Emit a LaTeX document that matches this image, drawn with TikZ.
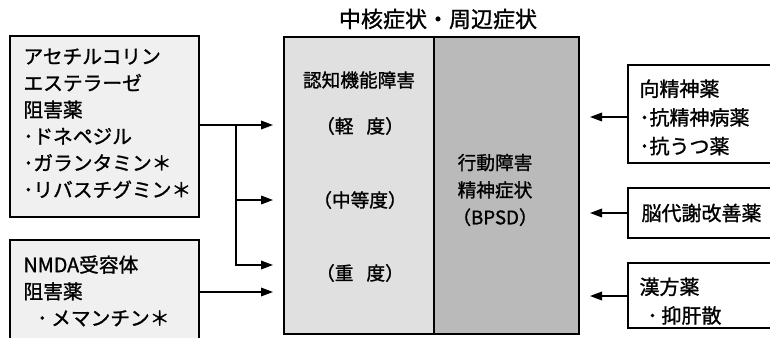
\documentclass[tikz,border=0pt]{standalone}
\usepackage{fontspec}
\newfontfamily\jp[FakeBold=1.2]{Noto Sans CJK JP}
\usetikzlibrary{arrows.meta,fit}

\tikzset{every picture/.style={line width=0.75pt}}
\tikzset{
  box/.style={draw,line width=1pt,inner sep=0pt},
  drugtxt/.style={anchor=north west,inner sep=0pt,align=left,font=\jp\fontsize{14.8}{20}\selectfont},
  coretxt/.style={inner sep=0pt,font=\jp\fontsize{14}{20.5}\selectfont},
  sidetxt/.style={anchor=north west,inner sep=0pt,align=left,font=\jp\fontsize{15}{21.5}\selectfont},
  arr/.style={line width=1pt,-{Triangle[length=9pt,width=6.5pt]}}
}

\begin{document}
\begin{tikzpicture}[x=0.75pt,y=0.75pt,yscale=-1,xscale=1]
  \useasboundingbox (0,0) rectangle (770,337);

  %Title
  \node[coretxt,font=\jp\fontsize{16.5}{20}\selectfont] (title) at (438,19) {中核症状・周辺症状};

  %Left boxes
  \node[box,fill=black!6,fit={(10,36) (199,217)}] (ache) {};
  \node[drugtxt] (achetxt) at (23,48) {アセチルコリン\\エステラーゼ\\阻害薬\\･ドネペジル\\･ガランタミン＊\\･リバスチグミン＊};
  \node[box,fill=black!6,fit={(10,240) (199,345)}] (nmda) {};
  \node[drugtxt] (nmdatxt) at (23,255) {NMDA受容体\\阻害薬\\\hspace{0.7em}･\hspace{0.2em}メマンチン＊};

  %Core / peripheral symptoms
  \node[box,fill=black!12,fit={(284,37) (434,334)}] (cog) {};
  \node[box,fill=black!27,fit={(434,37) (579,334)}] (bpsd) {};
  \node[coretxt] (cogtxt) at (359,80) {認知機能障害};
  \node[coretxt] (mild) at (360,126) {（軽\hspace{0.7em}度）};
  \node[coretxt] (moderate) at (360,200) {（中等度）};
  \node[coretxt] (severe) at (360,273) {（重\hspace{0.7em}度）};
  \node[coretxt,align=center] (bpsdtxt) at (495,190) {行動障害\\精神症状\\（BPSD）};

  %Right boxes
  \node[box,fill=white,fit={(628,65) (780,163)}] (psy) {};
  \node[sidetxt] (psytxt) at (639,79) {向精神薬\\･抗精神病薬\\･抗うつ薬};
  \node[box,fill=white,fit={(628,188) (780,238)}] (meta) {};
  \node[sidetxt,anchor=west] (metatxt) at (641,213) {脳代謝改善薬};
  \node[box,fill=white,fit={(628,263) (780,328)}] (kampo) {};
  \node[sidetxt] (kampotxt) at (639,277) {漢方薬\\\hspace{0.4em}･\hspace{0.2em}抑肝散};

  %Arrow ends
  \coordinate (inMild) at (273,125);
  \coordinate (inMod) at (273,200);
  \coordinate (inSev) at (273,265);
  \coordinate (inNmda) at (273,292);
  \coordinate (fork) at (236,125);
  \coordinate (inPsy) at (590,117);
  \coordinate (inMeta) at (590,213);
  \coordinate (inKampo) at (590,296);

  %Connectors
  \draw[arr] (ache.east |- inMild) -- (inMild);
  \draw[arr] (fork |- inMod) -- (inMod);
  \draw[arr] (fork) |- (inSev);
  \draw[arr] (nmda.east |- inNmda) -- (inNmda);
  \draw[arr] (psy.west |- inPsy) -- (inPsy);
  \draw[arr] (meta.west |- inMeta) -- (inMeta);
  \draw[arr] (kampo.west |- inKampo) -- (inKampo);
\end{tikzpicture}
\end{document}
